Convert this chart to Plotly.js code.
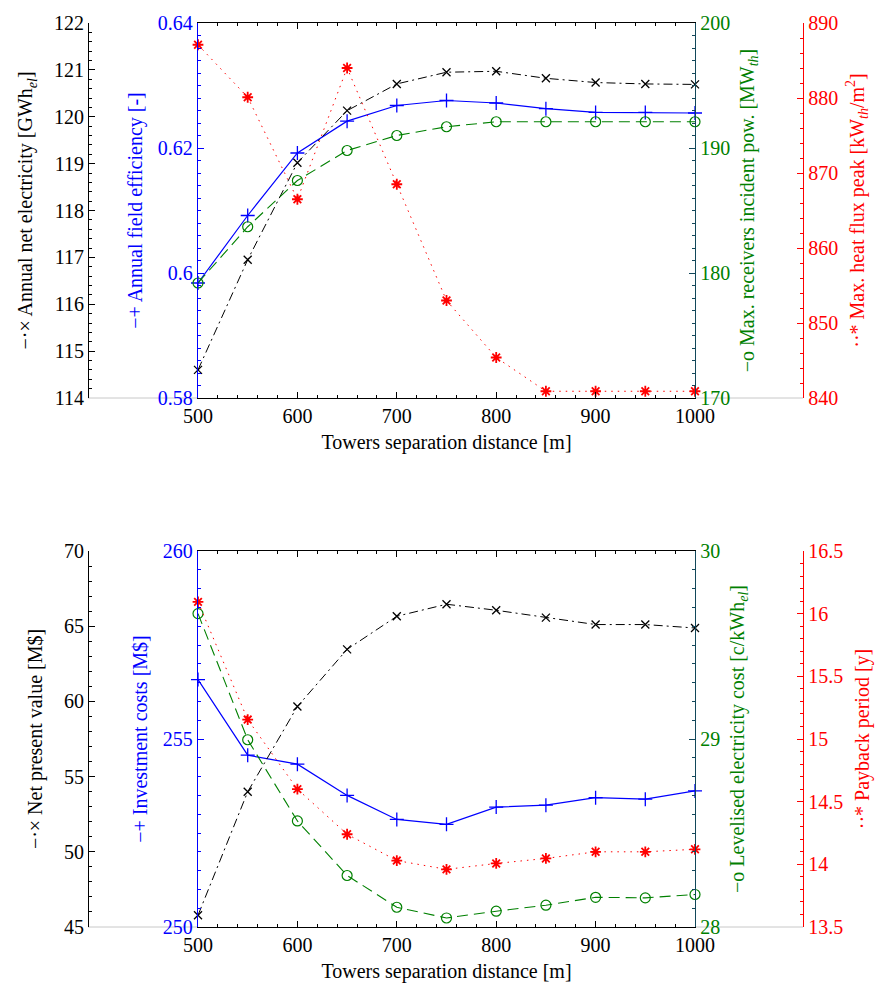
<!DOCTYPE html>
<html>
<head>
<meta charset="utf-8">
<script src="https://cdn.plot.ly/plotly-3.0.1.min.js"></script>
<style>html,body{margin:0;padding:0;background:#fff;}#chart{width:886px;height:991px;}</style>
</head>
<body>
<div id="chart"></div>
<script>
// ---- data ----
const distance = [500, 550, 600, 650, 700, 750, 800, 850, 900, 950, 1000];

// top panel
const annualNetElectricity = [114.6, 116.95, 119.02, 120.13, 120.70, 120.95, 120.97, 120.82, 120.73, 120.70, 120.69];
const annualFieldEfficiency = [0.5984, 0.6092, 0.6192, 0.6243, 0.6268, 0.6276, 0.6272, 0.6263, 0.6257, 0.6257, 0.6256];
const maxReceiversIncidentPower = [179.2, 183.7, 187.4, 189.8, 191.0, 191.7, 192.1, 192.1, 192.1, 192.1, 192.1];
const maxHeatFluxPeak = [887.1, 880.1, 866.5, 884.0, 868.5, 853.0, 845.4, 840.9, 840.9, 840.9, 840.9];

// bottom panel
const netPresentValue = [45.78, 53.99, 59.66, 63.46, 65.66, 66.46, 66.06, 65.57, 65.11, 65.11, 64.88];
const investmentCosts = [256.58, 254.57, 254.33, 253.50, 252.86, 252.73, 253.19, 253.24, 253.44, 253.40, 253.62];
const levelisedElectricityCost = [29.667, 28.996, 28.564, 28.274, 28.105, 28.048, 28.084, 28.116, 28.158, 28.155, 28.173];
const paybackPeriod = [16.094, 15.155, 14.60, 14.24, 14.03, 13.96, 14.007, 14.047, 14.10, 14.10, 14.12];

const xTickVals = [500, 600, 700, 800, 900, 1000];

// ---- styling ----
const W = 886, H = 991;
const FONT = '"Liberation Serif", "Times New Roman", Times, "DejaVu Serif", serif';
const BLACK = '#000000', BLUE = '#0000ff', GREEN = '#008000', RED = '#ff0000', TEAL = '#12475a';
const TF = 20; // tick font
const TT = 20; // title font

const xDom = [198 / W, 695 / W];
const topDom = [1 - 398 / H, 1 - 23 / H];
const botDom = [1 - 927 / H, 1 - 551 / H];
const posBlack = 88 / W, posRed = 803 / W;

function yax(opts) {
  const c = opts.color;
  return Object.assign({
    showgrid: false, zeroline: false, showline: true, linecolor: opts.lineColor || c, linewidth: 1.2,
    ticks: 'inside', ticklen: 6, tickcolor: opts.lineColor || c, tickwidth: 1,
    tickfont: {family: FONT, size: TF, color: c},
    minor: {ticks: 'inside', ticklen: 3, tickcolor: opts.lineColor || c, dtick: opts.minor, showgrid: false},
    title: {text: opts.title, font: {family: FONT, size: TT, color: c}, standoff: opts.standoff || 10},
    fixedrange: true
  }, opts.extra);
}

function xax(anchor) {
  return {
    domain: xDom, anchor: anchor, range: [500, 1000], tickvals: xTickVals,
    showgrid: false, zeroline: false, showline: true, linecolor: BLACK, linewidth: 1.2, mirror: 'ticks',
    ticks: 'inside', ticklen: 6, tickcolor: BLACK,
    minor: {ticks: 'inside', ticklen: 3, dtick: 20, tickcolor: BLACK, showgrid: false},
    tickfont: {family: FONT, size: TF, color: BLACK},
    title: {text: 'Towers separation distance [m]', font: {family: FONT, size: TT, color: BLACK}, standoff: 8}
  };
}

function trace(y, xa, ya, kind) {
  const styles = {
    black: {line: {color: BLACK, width: 1, dash: '9px,4px,2px,4px'}, marker: {symbol: 'x-thin', size: 8, line: {width: 1.3, color: BLACK}}},
    blue: {line: {color: BLUE, width: 1.2}, marker: {symbol: 'cross-thin', size: 10, line: {width: 1.3, color: BLUE}}},
    green: {line: {color: GREEN, width: 1.1, dash: '11px,6px'}, marker: {symbol: 'circle-open', size: 10, color: GREEN, line: {width: 1.2, color: GREEN}}},
    red: {line: {color: RED, width: 1, dash: '1.5px,5px'}, marker: {symbol: 'asterisk', size: 9, line: {width: 1.8, color: RED}}}
  };
  return Object.assign({x: distance, y: y, xaxis: xa, yaxis: ya, mode: 'lines+markers', cliponaxis: false, hoverinfo: 'skip'}, styles[kind]);
}

const data = [
  trace(annualNetElectricity, 'x', 'y2', 'black'),
  trace(maxReceiversIncidentPower, 'x', 'y3', 'green'),
  trace(maxHeatFluxPeak, 'x', 'y4', 'red'),
  trace(annualFieldEfficiency, 'x', 'y', 'blue'),
  trace(netPresentValue, 'x2', 'y6', 'black'),
  trace(levelisedElectricityCost, 'x2', 'y7', 'green'),
  trace(paybackPeriod, 'x2', 'y8', 'red'),
  trace(investmentCosts, 'x2', 'y5', 'blue')
];

const greyLine = (x0, x1, yp) => ({type: 'line', xref: 'paper', yref: 'paper', x0: x0, x1: x1, y0: yp, y1: yp, line: {color: '#c8c8c8', width: 1}, layer: 'below'});

const layout = {
  width: W, height: H, margin: {l: 0, r: 0, t: 0, b: 0}, showlegend: false,
  paper_bgcolor: '#ffffff', plot_bgcolor: 'rgba(0,0,0,0)',
  font: {family: FONT, size: TF},
  xaxis: xax('y'),
  xaxis2: xax('y5'),
  yaxis: yax({color: BLUE, minor: 0.002, standoff: 9, title: '−+ Annual field efficiency [-]',
    extra: {domain: topDom, anchor: 'x', side: 'left', range: [0.58, 0.64], dtick: 0.02, tickformat: '.2~f'}}),
  yaxis2: yax({color: BLACK, minor: 0.2, standoff: 14, title: '−·× Annual net electricity [GWh<sub><i>el</i></sub>]',
    extra: {domain: topDom, overlaying: 'y', anchor: 'free', position: posBlack, side: 'left', range: [114, 122], dtick: 1}}),
  yaxis3: yax({color: GREEN, lineColor: TEAL, minor: 1, standoff: 10, title: '−o Max. receivers incident pow. [MW<sub><i>th</i></sub>]',
    extra: {domain: topDom, overlaying: 'y', anchor: 'x', side: 'right', range: [170, 200], dtick: 10}}),
  yaxis4: yax({color: RED, minor: 2, standoff: 12, title: '··* Max. heat flux peak [kW<sub><i>th</i></sub>/m<sup>2</sup>]',
    extra: {domain: topDom, overlaying: 'y', anchor: 'free', position: posRed, side: 'right', range: [840, 890], dtick: 10}}),
  yaxis5: yax({color: BLUE, minor: 0.5, standoff: 9, title: '−+ Investment costs [M$]',
    extra: {domain: botDom, anchor: 'x2', side: 'left', range: [250, 260], dtick: 5}}),
  yaxis6: yax({color: BLACK, minor: 1, standoff: 14, title: '−·× Net present value [M$]',
    extra: {domain: botDom, overlaying: 'y5', anchor: 'free', position: posBlack, side: 'left', range: [45, 70], dtick: 5}}),
  yaxis7: yax({color: GREEN, lineColor: TEAL, minor: 0.1, standoff: 10, title: '−o Levelised electricity cost [c/kWh<sub><i>el</i></sub>]',
    extra: {domain: botDom, overlaying: 'y5', anchor: 'x2', side: 'right', range: [28, 30], dtick: 1}}),
  yaxis8: yax({color: RED, minor: 0.1, standoff: 12, title: '··* Payback period [y]',
    extra: {domain: botDom, overlaying: 'y5', anchor: 'free', position: posRed, side: 'right', range: [13.5, 16.5], dtick: 0.5}}),
  shapes: [
    greyLine(posBlack, xDom[0], topDom[0]), greyLine(xDom[1], posRed, topDom[0]),
    greyLine(posBlack, xDom[0], botDom[0]), greyLine(xDom[1], posRed, botDom[0])
  ]
};

Plotly.newPlot('chart', data, layout, {staticPlot: true, displayModeBar: false});
</script>
</body>
</html>
